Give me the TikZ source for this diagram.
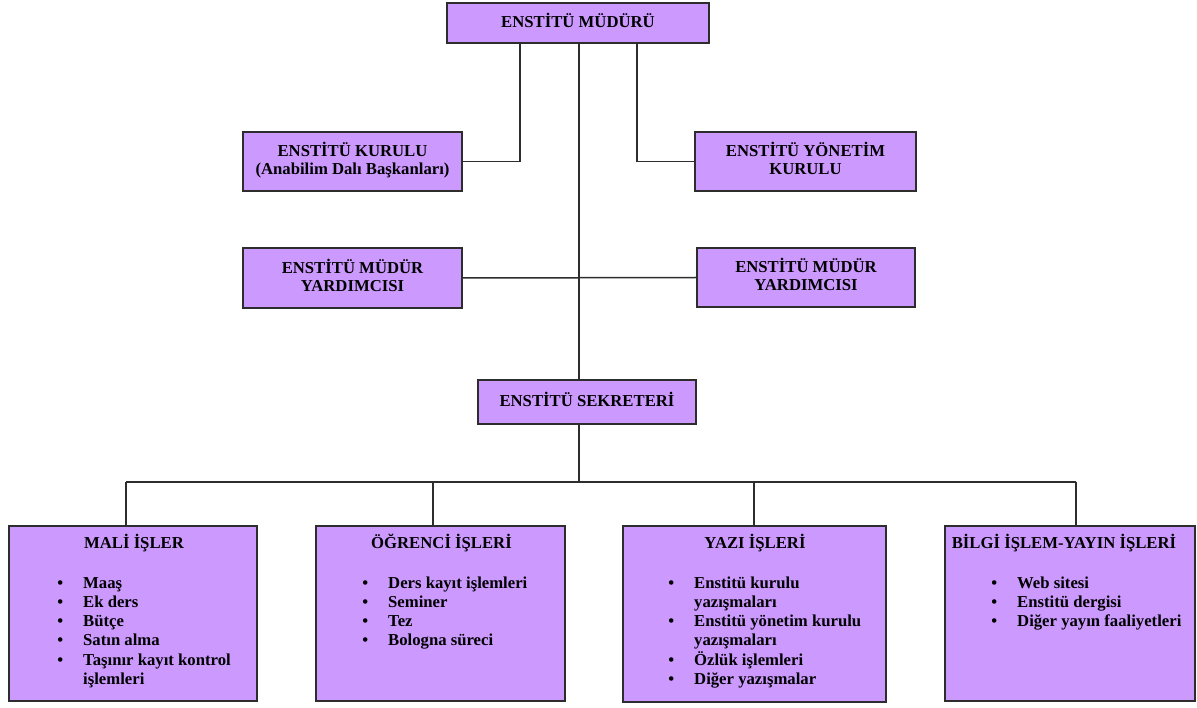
\documentclass[tikz,border=0pt]{standalone}
\usepackage{fontspec}
\setmainfont{Liberation Serif}
\definecolor{boxfill}{RGB}{204,153,255}
\definecolor{edge}{RGB}{45,45,45}
\newcommand{\bx}[2][2pt]{\raisebox{#1}{\begin{tabular}{@{}c@{}}#2\end{tabular}}}
\newcommand{\bul}{\llap{\textbullet\hspace{20pt}}}
\tikzset{
  orgbox/.style={draw=edge, fill=boxfill, line width=1.5pt, inner sep=0pt,
    font=\fontsize{16.7}{18}\selectfont\bfseries},
  conn/.style={draw=edge, line width=1.5pt},
  ttl/.style={inner sep=0pt, anchor=base, font=\fontsize{16.7}{18}\selectfont\bfseries},
  lst/.style={inner sep=0pt, anchor=base west, font=\fontsize{16.7}{19.3}\selectfont\bfseries}
}
\begin{document}
\begin{tikzpicture}[x=1pt,y=-1pt]
\useasboundingbox (0,0) rectangle (1197,708);
% boxes
\node[orgbox, minimum width=262pt, minimum height=40pt] (t) at (578,23) {\bx[4pt]{ENSTİTÜ MÜDÜRÜ}};
\node[orgbox, minimum width=219pt, minimum height=59pt] (k) at (352.5,161.5) {\bx{ENSTİTÜ KURULU\\(Anabilim Dalı Başkanları)}};
\node[orgbox, minimum width=221pt, minimum height=59pt] (yk) at (805.5,161.5) {\bx{ENSTİTÜ YÖNETİM\\KURULU}};
\node[orgbox, minimum width=219pt, minimum height=60pt] (ya1) at (352.5,278) {\bx[1pt]{ENSTİTÜ MÜDÜR\\YARDIMCISI}};
\node[orgbox, minimum width=218pt, minimum height=59pt] (ya2) at (806,277.5) {\bx[1pt]{ENSTİTÜ MÜDÜR\\YARDIMCISI}};
\node[orgbox, minimum width=218pt, minimum height=44pt] (s) at (587,402) {\bx{ENSTİTÜ SEKRETERİ}};
\node[orgbox, minimum width=248pt, minimum height=175pt] (m1) at (133,613.5) {};
\node[orgbox, minimum width=249pt, minimum height=175pt] (m2) at (440.5,613.5) {};
\node[orgbox, minimum width=263pt, minimum height=176pt] (m3) at (754.5,614) {};
\node[orgbox, minimum width=250pt, minimum height=175pt] (m4) at (1070,613.5) {};
% titles
\node[ttl] (t1) at (134,548.5) {MALİ İŞLER};
\node[ttl] (t2) at (441.5,548.5) {ÖĞRENCİ İŞLERİ};
\node[ttl] (t3) at (755,548.5) {YAZI İŞLERİ};
\node[ttl] (t4) at (1064,548.5) {BİLGİ İŞLEM-YAYIN İŞLERİ};
% lists
\node[lst] (l1) at (83,588) {\begin{tabular}[t]{@{}l@{}}
\bul Maaş\\ \bul Ek ders\\ \bul Bütçe\\ \bul Satın alma\\ \bul Taşınır kayıt kontrol\\ işlemleri\end{tabular}};
\node[lst] (l2) at (388,588) {\begin{tabular}[t]{@{}l@{}}
\bul Ders kayıt işlemleri\\ \bul Seminer\\ \bul Tez\\ \bul Bologna süreci\end{tabular}};
\node[lst] (l3) at (694,588) {\begin{tabular}[t]{@{}l@{}}
\bul Enstitü kurulu\\ yazışmaları\\ \bul Enstitü yönetim kurulu\\ yazışmaları\\ \bul Özlük işlemleri\\ \bul Diğer yazışmalar\end{tabular}};
\node[lst] (l4) at (1017,588) {\begin{tabular}[t]{@{}l@{}}
\bul Web sitesi\\ \bul Enstitü dergisi\\ \bul Diğer yayın faaliyetleri\end{tabular}};
% helper coordinates
\coordinate (c1) at (520,161);
\coordinate (c2) at (637,161);
\coordinate (d1) at (126,482);
\coordinate (d2) at (433,482);
\coordinate (d3) at (754,482);
\coordinate (d4) at (1076,482);
\coordinate (cx) at (579,482);
% connectors
\draw[conn] (t.south -| c1) |- (k.east);
\draw[conn] (t.south -| c2) |- (yk.west);
\draw[conn] (t.south -| cx) -- (s.north -| cx);
\draw[conn] (ya1.east) -- (ya2.west);
\draw[conn] (s.south -| cx) -- (cx);
\draw[conn] (d1) -- (d4);
\draw[conn] (d1) -- (d1 |- m1.north);
\draw[conn] (d2) -- (d2 |- m2.north);
\draw[conn] (d3) -- (d3 |- m3.north);
\draw[conn] (d4) -- (d4 |- m4.north);
\end{tikzpicture}
\end{document}
